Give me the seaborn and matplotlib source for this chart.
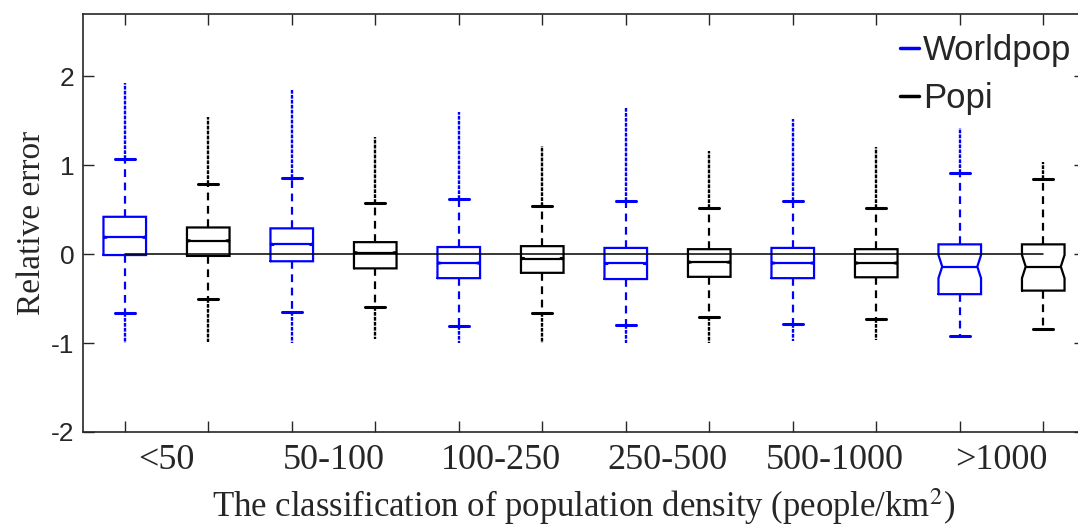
import numpy as np
import pandas as pd
from matplotlib import pyplot as plt
from matplotlib.lines import Line2D
import seaborn as sns

# values (relative error per density class)
categories = ['<50', '50-100', '100-250', '250-500', '500-1000', '>1000']
series = ['Worldpop', 'Popi']

worldpop_whislo = [-0.66, -0.65, -0.81, -0.80, -0.79, -0.92]
worldpop_q1 = [-0.01, -0.08, -0.27, -0.28, -0.27, -0.45]
worldpop_med = [0.19, 0.11, -0.10, -0.105, -0.10, -0.14]
worldpop_q3 = [0.42, 0.29, 0.08, 0.07, 0.07, 0.11]
worldpop_whishi = [1.07, 0.86, 0.62, 0.60, 0.60, 0.91]
worldpop_notch = [0.01, 0.01, 0.01, 0.01, 0.01, 0.13]
worldpop_flier_lo = [-1.0, -1.0, -1.0, -1.0, -0.98, np.nan]
worldpop_flier_hi = [1.92, 1.85, 1.60, 1.66, 1.52, 1.42]

popi_whislo = [-0.51, -0.59, -0.66, -0.71, -0.73, -0.84]
popi_q1 = [-0.02, -0.16, -0.21, -0.255, -0.26, -0.41]
popi_med = [0.15, 0.015, -0.05, -0.09, -0.10, -0.14]
popi_q3 = [0.30, 0.135, 0.09, 0.056, 0.056, 0.11]
popi_whishi = [0.79, 0.57, 0.54, 0.52, 0.52, 0.84]
popi_notch = [0.01, 0.01, 0.01, 0.01, 0.01, 0.13]
popi_flier_lo = [-0.99, -0.95, -1.0, -1.0, -0.97, np.nan]
popi_flier_hi = [1.54, 1.32, 1.22, 1.165, 1.20, 1.04]

colors = {'Worldpop': 'blue', 'Popi': 'black'}

rows = []
for i, c in enumerate(categories):
    rows.append(dict(cat=c, series='Worldpop', pos=2 * i + 1,
                     whislo=worldpop_whislo[i], q1=worldpop_q1[i], med=worldpop_med[i],
                     q3=worldpop_q3[i], whishi=worldpop_whishi[i], notch=worldpop_notch[i],
                     flo=worldpop_flier_lo[i], fhi=worldpop_flier_hi[i]))
    rows.append(dict(cat=c, series='Popi', pos=2 * i + 2,
                     whislo=popi_whislo[i], q1=popi_q1[i], med=popi_med[i],
                     q3=popi_q3[i], whishi=popi_whishi[i], notch=popi_notch[i],
                     flo=popi_flier_lo[i], fhi=popi_flier_hi[i]))
df = pd.DataFrame(rows)

sns.set_theme(style='ticks')
plt.rcParams['font.family'] = ['Liberation Sans', 'DejaVu Sans']
plt.rcParams['mathtext.fontset'] = 'stix'
plt.rcParams['axes.unicode_minus'] = False

fig = plt.figure(figsize=(10.78, 5.29), dpi=100)
ax = fig.add_axes([0.077, 0.1834, 0.9295, 0.79])

hw = 0.255   # half box width
ins = 0.045  # notch inset
cap = 0.12
lw = 1.6

for _, r in df.iterrows():
    col = colors[r['series']]
    x = r['pos']
    nlo = r['med'] - r['notch']
    nhi = r['med'] + r['notch']
    xs = [x - hw, x + hw, x + hw, x + hw - ins, x + hw, x + hw,
          x - hw, x - hw, x - hw + ins, x - hw, x - hw]
    ys = [r['q1'], r['q1'], nlo, r['med'], nhi, r['q3'],
          r['q3'], nhi, r['med'], nlo, r['q1']]
    ax.plot(xs, ys, color=col, lw=lw, solid_joinstyle='miter')
    ax.plot([x - hw + ins, x + hw - ins], [r['med'], r['med']], color=col, lw=lw)
    # whiskers
    ax.plot([x, x], [r['q3'], r['whishi']], color=col, lw=lw, ls=(0, (3.5, 2.5)))
    ax.plot([x, x], [r['q1'], r['whislo']], color=col, lw=lw, ls=(0, (3.5, 2.5)))
    ax.plot([x - cap, x + cap], [r['whishi']] * 2, color=col, lw=lw + 0.6)
    ax.plot([x - cap, x + cap], [r['whislo']] * 2, color=col, lw=lw + 0.6)
    # outliers (dense strips of points)
    ax.plot([x, x], [r['whishi'], r['fhi']], color=col, lw=1.7, ls=(0, (1.6, 0.5)))
    if not np.isnan(r['flo']):
        ax.plot([x, x], [r['whislo'], r['flo']], color=col, lw=1.7, ls=(0, (1.6, 0.5)))

ax.plot([df['pos'].min(), df['pos'].max()], [0, 0], color='black', lw=1.1, zorder=5)

ax.set_xlim(0.5, 12.5)
ax.set_ylim(-2, 2.7)
ax.set_xticks(df['pos'])
ax.set_xticklabels([])
ax.set_xticks(np.arange(len(categories)) * 2 + 1.5, minor=True)
ax.set_xticklabels(categories, minor=True, family='Liberation Serif', fontsize=26)
ax.set_yticks([-2, -1, 0, 1, 2])
ax.set_yticklabels(['-2', '-1', '0', '1', '2'], fontsize=19)
ax.tick_params(axis='both', which='major', direction='in', length=8, width=1,
               top=True, right=True, colors='#262626')
ax.tick_params(axis='x', which='minor', length=0, pad=9, top=False)
ax.tick_params(axis='y', pad=6)
for s in ax.spines.values():
    s.set_linewidth(1.2)
    s.set_color('#262626')

ax.set_ylabel('Relative error', family='Liberation Serif', fontsize=24, labelpad=3)
ax.set_xlabel('The classification of population density (people/km$^2$)',
              family='Liberation Serif', fontsize=25, labelpad=6)

handles = [Line2D([], [], color=colors[s], lw=2.5) for s in series]
fig.legend(handles, series, loc='upper left', bbox_to_anchor=(0.835, 0.936),
           frameon=False, fontsize=25, handlelength=0.55, handletextpad=0.1,
           labelspacing=0.45, borderpad=0, borderaxespad=0)

fig.savefig('out.png', dpi=100)
